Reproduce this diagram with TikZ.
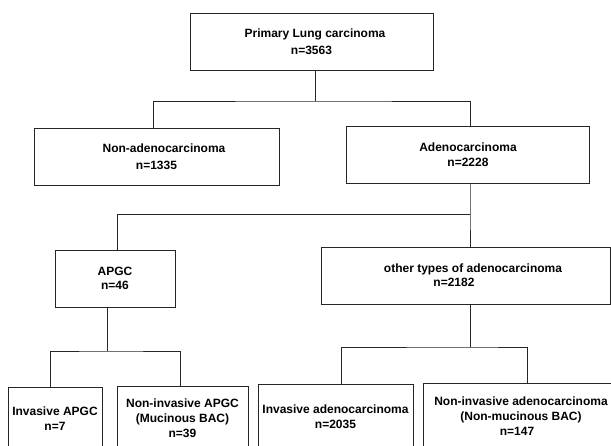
\documentclass[tikz,border=0pt]{standalone}
\usepackage{fontspec}
\setmainfont{Liberation Sans}
\begin{document}
\begin{tikzpicture}[x=1pt,y=-1pt,
  box/.style={draw=black!85,line width=0.9pt,rectangle,align=center,inner sep=0pt,
    font=\bfseries\fontsize{12}{15}\selectfont},
  ln/.style={draw=black!85,line width=0.9pt}]
\useasboundingbox (0,0) rectangle (611,446);
% boxes
\node[box,minimum width=243pt,minimum height=57pt,font=\bfseries\fontsize{12}{17}\selectfont] (top) at (311.5,41.5)
  {\hspace*{7pt}Primary Lung carcinoma\\n=3563};
\node[box,minimum width=245pt,minimum height=57pt,font=\bfseries\fontsize{12}{17}\selectfont] (nonadeno) at (156.5,156.5)
  {\hspace*{15pt}Non-adenocarcinoma\\n=1335};
\node[box,minimum width=243pt,minimum height=57pt] (adeno) at (468,154.5)
  {Adenocarcinoma\\n=2228};
\node[box,minimum width=120pt,minimum height=57pt,font=\bfseries\fontsize{12}{14}\selectfont] (apgc) at (115,278.5)
  {APGC\\n=46};
\node[box,minimum width=289pt,minimum height=57pt,font=\bfseries\fontsize{12}{14}\selectfont] (other) at (465.5,275.5)
  {\hspace*{15pt}other types of adenocarcinoma\\n=2182\hspace*{23pt}};
\node[box,minimum width=94pt,minimum height=64pt] (invapgc) at (55,419)
  {Invasive APGC\\n=7};
\node[box,minimum width=131pt,minimum height=64pt] (noninvapgc) at (182.5,418)
  {Non-invasive APGC\\(Mucinous BAC)\\n=39};
\node[box,minimum width=155pt,minimum height=66pt] (invadeno) at (335.5,417)
  {Invasive adenocarcinoma\\n=2035};
\node[box,minimum width=196pt,minimum height=66pt] (noninvadeno) at (521,416)
  {Non-invasive adenocarcinoma\\(Non-mucinous BAC)\hspace*{18pt}\\n=147\hspace*{8pt}};
% junctions and drop positions
\coordinate (j1) at (315,101);
\coordinate (j2) at (470,214);
\coordinate (j3) at (107,351);
\coordinate (j4) at (470,347);
\coordinate (a153) at (153,0);
\coordinate (a470) at (470,0);
\coordinate (a117) at (117,0);
\coordinate (a50) at (50,0);
\coordinate (a180) at (180,0);
\coordinate (a341) at (341,0);
\coordinate (a527) at (527,0);
% connectors
\draw[ln] (top.south -| j1) -- (j1);
\draw[ln] (nonadeno.north -| a153) |- (j1) -| (adeno.north -| a470);
\draw[ln] (adeno.south -| j2) -- (j2) -- (other.north -| j2);
\draw[ln] (j2) -| (apgc.north -| a117);
\draw[ln] (apgc.south -| j3) -- (j3);
\draw[ln] (invapgc.north -| a50) |- (j3) -| (noninvapgc.north -| a180);
\draw[ln] (other.south -| j4) -- (j4);
\draw[ln] (invadeno.north -| a341) |- (j4) -| (noninvadeno.north -| a527);
\end{tikzpicture}
\end{document}
